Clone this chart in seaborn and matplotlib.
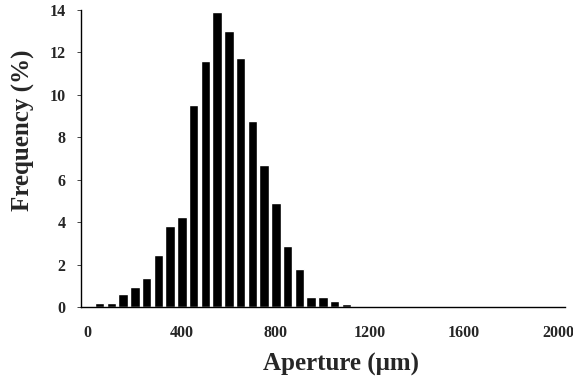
import pandas as pd
import matplotlib
matplotlib.use("Agg")
import matplotlib.pyplot as plt
import seaborn as sns

# Aperture bin centres (um) and frequency (%)
aperture = [50, 100, 150, 200, 250, 300, 350, 400, 450, 500, 550,
            600, 650, 700, 750, 800, 850, 900, 950, 1000, 1050, 1100]
frequency = [0.17, 0.17, 0.60, 0.93, 1.38, 2.43, 3.81, 4.22, 9.50, 11.58, 13.90,
             12.97, 11.72, 8.75, 6.68, 4.91, 2.86, 1.77, 0.48, 0.48, 0.28, 0.16]
x_ticks = [0, 400, 800, 1200, 1600, 2000]
y_ticks = [0, 2, 4, 6, 8, 10, 12, 14]

df = pd.DataFrame({"Aperture": aperture, "Frequency": frequency})

sns.set_style("white")
plt.rcParams["font.family"] = ["Liberation Serif", "DejaVu Serif"]
plt.rcParams["font.weight"] = "bold"

fig = plt.figure(figsize=(5.73, 3.83), dpi=100)
ax = fig.add_axes([0.1414, 0.1984, 0.8446, 0.7766])

sns.barplot(data=df, x="Aperture", y="Frequency", native_scale=True,
            color="black", width=0.82, saturation=1, ax=ax)

ax.set_xlim(-29, 2030)
ax.set_ylim(0, 14)
ax.set_xticks(x_ticks)
ax.set_xticklabels([str(t) for t in x_ticks], fontsize=11.5, fontweight="bold")
ax.set_yticks(y_ticks)
ax.set_yticklabels([str(t) for t in y_ticks], fontsize=11.5, fontweight="bold")
ax.tick_params(axis="x", length=0, pad=13)
ax.tick_params(axis="y", length=3, width=0.6, direction="out", pad=8, left=True)

sns.despine(ax=ax)
for s in ["left", "bottom"]:
    ax.spines[s].set_color("black")
    ax.spines[s].set_linewidth(1.0)

ax.set_xlabel("Aperture (\u03bcm)", fontsize=18, fontweight="bold")
ax.set_ylabel("Frequency (%)", fontsize=18, fontweight="bold")
ax.xaxis.set_label_coords(0.537, -0.155)
ax.yaxis.set_label_coords(-0.095, 0.595)

fig.savefig("out.png", dpi=100)
